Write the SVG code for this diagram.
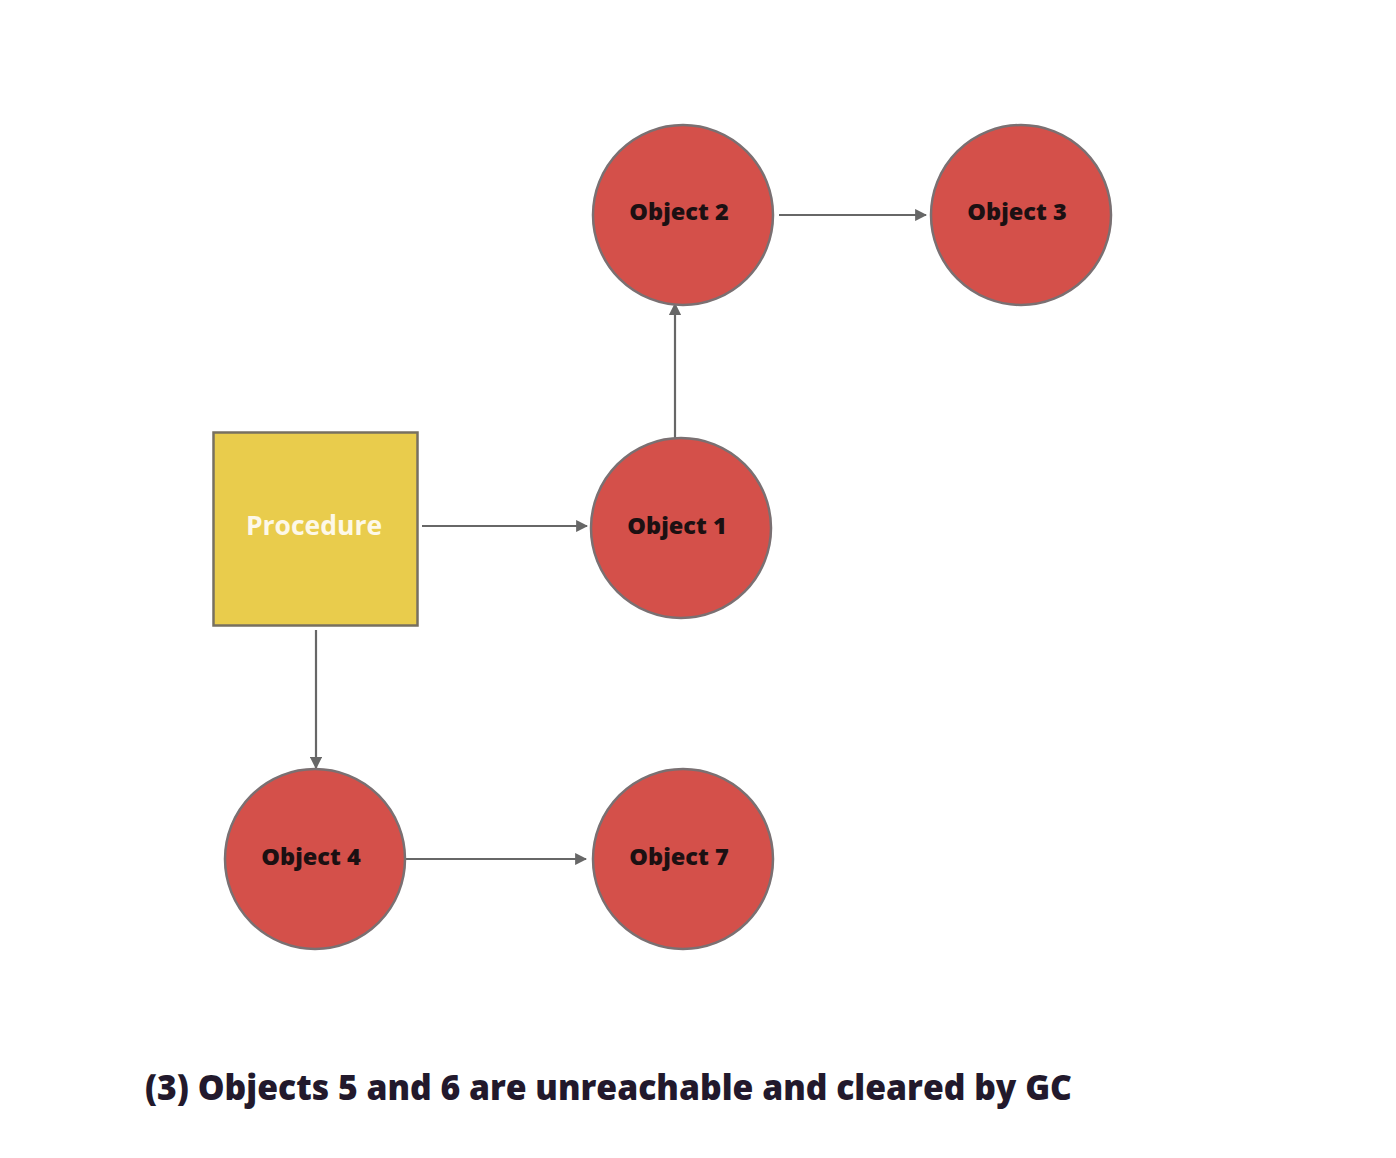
<svg xmlns="http://www.w3.org/2000/svg" width="1396" height="1158" viewBox="0 0 1396 1158">
<style>
.obj{fill:#d4504a;stroke:#7a7072;stroke-width:2.5}
.lbl{font-family:"Open Sans","Liberation Sans",sans-serif;font-weight:800;font-size:23.5px;fill:#1c1012;text-anchor:middle}
.conn{stroke:#676767;stroke-width:2.2;fill:none;marker-end:url(#ah)}
</style>
<defs>
<marker id="ah" viewBox="0 0 10 10" refX="9" refY="5" markerWidth="5.5" markerHeight="5.5" markerUnits="strokeWidth" orient="auto">
<path d="M0,0 L10,5 L0,10 z" fill="#676767"/>
</marker>
</defs>
<rect width="1396" height="1158" fill="#ffffff"/>
<g id="connectors">
<line class="conn" x1="422" y1="526" x2="587" y2="526"/>
<line class="conn" x1="675" y1="440" x2="675" y2="304"/>
<line class="conn" x1="779" y1="215" x2="926" y2="215"/>
<line class="conn" x1="316" y1="630" x2="316" y2="768"/>
<line class="conn" x1="403" y1="859" x2="586" y2="859"/>
</g>
<g id="procedure">
<rect x="213.5" y="432.5" width="204" height="193" fill="#e9cc4c" stroke="#777060" stroke-width="2.5"/>
<text x="314" y="535" font-family="'Open Sans','Liberation Sans',sans-serif" font-weight="bold" font-size="26.5" fill="#fdf8e8" text-anchor="middle">Procedure</text>
</g>
<g id="object1">
<circle class="obj" cx="681" cy="528" r="90"/>
<text class="lbl" x="677" y="534">Object 1</text>
</g>
<g id="object2">
<circle class="obj" cx="683" cy="215" r="90"/>
<text class="lbl" x="679" y="220">Object 2</text>
</g>
<g id="object3">
<circle class="obj" cx="1021" cy="215" r="90"/>
<text class="lbl" x="1017" y="220">Object 3</text>
</g>
<g id="object4">
<circle class="obj" cx="315" cy="859" r="90"/>
<text class="lbl" x="311" y="865">Object 4</text>
</g>
<g id="object7">
<circle class="obj" cx="683" cy="859" r="90"/>
<text class="lbl" x="679" y="865">Object 7</text>
</g>
<g id="caption">
<text x="145" y="1100" font-family="'Open Sans','Liberation Sans',sans-serif" font-weight="800" font-size="35" fill="#22192c" textLength="927" lengthAdjust="spacingAndGlyphs">(3) Objects 5 and 6 are unreachable and cleared by GC</text>
</g>
</svg>
